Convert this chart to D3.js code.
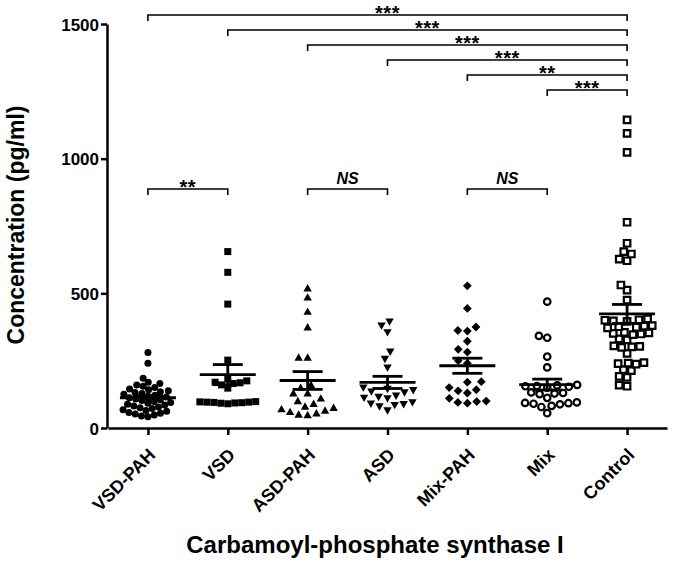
<!DOCTYPE html>
<html>
<head>
<meta charset="utf-8">
<script src="https://cdn.jsdelivr.net/npm/d3@7"></script>
<style>
  html, body { margin: 0; padding: 0; background: #fff; }
  svg { display: block; font-family: "Liberation Sans", Arial, Helvetica, sans-serif; }
</style>
</head>
<body>
<svg id="chart" width="675" height="562"></svg>
<script>
// ---------------- DATA ----------------
const categories = ["VSD-PAH", "VSD", "ASD-PAH", "ASD", "Mix-PAH", "Mix", "Control"];

const vsdPah = [280, 240, 185, 170, 165, 160, 155, 150, 145, 142, 138, 135, 132, 128, 125, 122, 118, 115, 112, 108,
                105, 102, 98, 95, 92, 88, 85, 82, 78, 75, 72, 68, 65, 62, 58, 55, 52, 48, 45, 42];
const vsd = [655, 578, 460, 252, 182, 175, 170, 168, 165, 160, 148, 98, 97, 96, 96, 95, 94, 93, 92, 90];
const asdPah = [519, 485, 432, 374, 262, 262, 160, 150, 129, 129, 110, 100, 90, 80, 75, 70, 65, 60, 55, 50, 48];
const asd = [395, 380, 355, 283, 256, 224, 150, 145, 140, 135, 132, 120, 115, 112, 110, 95, 90, 88, 85, 80, 65];
const mixPah = [528, 444, 375, 362, 360, 322, 292, 282, 250, 240, 172, 170, 150, 142, 138, 130, 110, 100, 98, 95, 92];
const mix = [469, 342, 335, 265, 225, 160, 158, 156, 155, 153, 150, 132, 130, 128, 126, 112, 95, 93, 92, 90, 88, 82, 78, 55];
const control = [1144, 1094, 1023, 764, 686, 655, 646, 627, 621, 531, 512, 475,
                 405, 402, 400, 398, 396, 380, 378, 376, 374, 372, 355, 353, 351, 349, 347, 331, 327,
                 305, 303, 301, 299, 277, 243, 241, 239, 237, 217, 213, 192, 188, 159, 155];

const seriesValues = [vsdPah, vsd, asdPah, asd, mixPah, mix, control];

const yTicks = [0, 500, 1000, 1500];

// comparisons: [from category, to category, label]
const topComparisons = [
  ["VSD-PAH", "Control", "***"],
  ["VSD", "Control", "***"],
  ["ASD-PAH", "Control", "***"],
  ["ASD", "Control", "***"],
  ["Mix-PAH", "Control", "**"],
  ["Mix", "Control", "***"]
];
const pairComparisons = [
  ["VSD-PAH", "VSD", "**"],
  ["ASD-PAH", "ASD", "NS"],
  ["Mix-PAH", "Mix", "NS"]
];

const yTitle = "Concentration (pg/ml)";
const xTitle = "Carbamoyl-phosphate synthase I";

// ---------------- STYLE ----------------
const markerStyle = {
  "VSD-PAH": { shape: "circle",   filled: true,  size: 7,   gap: 6.5 },
  "VSD":     { shape: "square",   filled: true,  size: 7,   gap: 7 },
  "ASD-PAH": { shape: "triUp",    filled: true,  size: 8,   gap: 9 },
  "ASD":     { shape: "triDown",  filled: true,  size: 8,   gap: 9 },
  "Mix-PAH": { shape: "diamond",  filled: true,  size: 8,   gap: 9.5 },
  "Mix":     { shape: "circle",   filled: false, size: 6.5, gap: 8.5 },
  "Control": { shape: "square",   filled: false, size: 6.5, gap: 8 }
};

const svg = d3.select("#chart");
const FONT = '"Liberation Sans", Arial, Helvetica, sans-serif';

const x = d3.scalePoint().domain(categories).range([108, 667]).padding(0.5);
const y = d3.scaleLinear().domain([0, 1500]).range([428, 24]);

// ---------------- AXES ----------------
const yAxis = svg.append("g")
  .attr("transform", "translate(107,0)")
  .call(d3.axisLeft(y).tickValues(yTicks).tickSize(6).tickSizeOuter(0).tickPadding(2).tickFormat(d3.format("d")));
yAxis.select(".domain").attr("stroke", "#000").attr("stroke-width", 2.5);
yAxis.selectAll(".tick line").attr("stroke", "#000").attr("stroke-width", 2.5);
yAxis.selectAll(".tick text").attr("fill", "#000").attr("font-family", FONT)
  .attr("font-weight", "bold").attr("font-size", 17).attr("dy", "0.36em");

const xAxis = svg.append("g")
  .attr("transform", "translate(0,428)")
  .call(d3.axisBottom(x).tickSize(7).tickSizeOuter(0));
xAxis.select(".domain").attr("stroke", "#000").attr("stroke-width", 2.5);
xAxis.selectAll(".tick line").attr("stroke", "#000").attr("stroke-width", 2.5);
xAxis.selectAll(".tick text")
  .attr("fill", "#000").attr("font-family", FONT).attr("font-weight", "bold").attr("font-size", 18)
  .attr("text-anchor", "end")
  .attr("x", 0).attr("y", 0).attr("dy", 0)
  .attr("transform", "translate(8,28) rotate(-45)");

svg.append("text")
  .attr("transform", "translate(24,225) rotate(-90)")
  .attr("text-anchor", "middle").attr("font-family", FONT).attr("font-weight", "bold").attr("font-size", 23)
  .text(yTitle);

svg.append("text")
  .attr("x", 375).attr("y", 553)
  .attr("text-anchor", "middle").attr("font-family", FONT).attr("font-weight", "bold").attr("font-size", 24)
  .text(xTitle);

// ---------------- POINTS (deterministic beeswarm) ----------------
function beeswarm(vals, D) {
  const pts = vals.map(v => ({ v, py: y(v) })).sort((a, b) => a.v - b.v);
  const placed = [];
  pts.forEach(p => {
    const near = placed.filter(q => Math.abs(q.py - p.py) < D);
    const cands = [0];
    near.forEach(q => {
      const w = Math.sqrt(D * D - (q.py - p.py) ** 2);
      cands.push(q.dx - w, q.dx + w);
    });
    cands.sort((a, b) => Math.abs(a) - Math.abs(b) || a - b);
    for (const c of cands) {
      const ok = near.every(q => (q.dx - c) ** 2 + (q.py - p.py) ** 2 >= D * D - 0.01);
      if (ok) { p.dx = c; break; }
    }
    placed.push(p);
  });
  return pts;
}

function shapePath(shape, s) {
  const h = s / 2;
  switch (shape) {
    case "square": return `M${-h},${-h}H${h}V${h}H${-h}Z`;
    case "triUp": return `M0,${-h * 1.05}L${h * 1.05},${h * 0.8}L${-h * 1.05},${h * 0.8}Z`;
    case "triDown": return `M0,${h * 1.05}L${h * 1.05},${-h * 0.8}L${-h * 1.05},${-h * 0.8}Z`;
    case "diamond": return `M0,${-h * 1.1}L${h * 1.1},0L0,${h * 1.1}L${-h * 1.1},0Z`;
  }
}

categories.forEach((cat, i) => {
  const st = markerStyle[cat];
  const pts = beeswarm(seriesValues[i], st.gap);
  const g = svg.append("g").attr("transform", `translate(${x(cat)},0)`);
  pts.forEach(p => {
    let el;
    if (st.shape === "circle") {
      el = g.append("circle").attr("cx", p.dx).attr("cy", p.py).attr("r", st.size / 2);
    } else {
      el = g.append("path").attr("d", shapePath(st.shape, st.size))
        .attr("transform", `translate(${p.dx},${p.py})`);
    }
    if (st.filled) el.attr("fill", "#000");
    else el.attr("fill", "#fff").attr("stroke", "#000").attr("stroke-width", 2.2);
  });

  // mean +/- SEM
  const vals = seriesValues[i];
  const m = d3.mean(vals);
  const sem = d3.deviation(vals) / Math.sqrt(vals.length);
  const cx = x(cat);
  const lw = 2.8;
  svg.append("line").attr("x1", cx - 28).attr("x2", cx + 28).attr("y1", y(m)).attr("y2", y(m))
    .attr("stroke", "#000").attr("stroke-width", lw);
  svg.append("line").attr("x1", cx - 15).attr("x2", cx + 15).attr("y1", y(m + sem)).attr("y2", y(m + sem))
    .attr("stroke", "#000").attr("stroke-width", lw);
  svg.append("line").attr("x1", cx - 15).attr("x2", cx + 15).attr("y1", y(m - sem)).attr("y2", y(m - sem))
    .attr("stroke", "#000").attr("stroke-width", lw);
  svg.append("line").attr("x1", cx).attr("x2", cx).attr("y1", y(m + sem)).attr("y2", y(m - sem))
    .attr("stroke", "#000").attr("stroke-width", lw);
});

// ---------------- SIGNIFICANCE BRACKETS ----------------
function bracket(a, b, yy, label) {
  const x1 = x(a), x2 = x(b);
  svg.append("path")
    .attr("d", `M${x1},${yy + 6}V${yy}H${x2}V${yy + 6}`)
    .attr("fill", "none").attr("stroke", "#000").attr("stroke-width", 1.6);
  const t = svg.append("text")
    .attr("x", (x1 + x2) / 2).attr("text-anchor", "middle")
    .attr("font-family", FONT).attr("font-weight", "bold").text(label);
  if (label === "NS") {
    t.attr("y", yy - 5).attr("font-size", 16).attr("font-style", "italic");
  } else {
    t.attr("y", yy + 5).attr("font-size", 20).attr("letter-spacing", 0.5);
  }
}

const topStart = 15, topStep = 15;
topComparisons.forEach((c, k) => bracket(c[0], c[1], topStart + k * topStep, c[2]));
const pairY = 189;
pairComparisons.forEach(c => bracket(c[0], c[1], pairY, c[2]));
</script>
</body>
</html>
